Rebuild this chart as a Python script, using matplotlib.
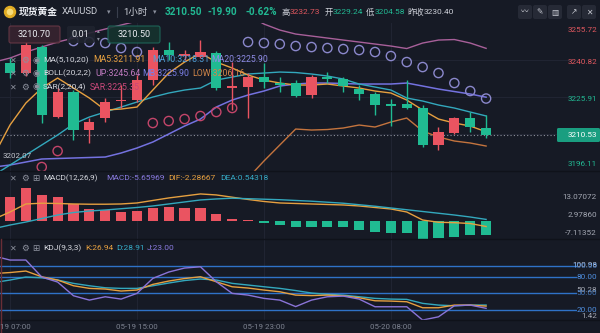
import numpy as np
import matplotlib
matplotlib.use("Agg")
import matplotlib.pyplot as plt
from matplotlib.patches import FancyBboxPatch, Circle

plt.rcParams['font.family'] = ['Roboto', 'Noto Sans CJK SC', 'DejaVu Sans']

# ---------------- data ----------------
time_labels = ['05-19 07:00', '05-19 15:00', '05-19 23:00', '05-20 08:00']
time_label_idx = [0, 8, 16, 24]

opens = [3239.70, 3235.66, 3246.16, 3217.88, 3227.98, 3212.63, 3217.48, 3224.35, 3224.75, 3232.83,
         3244.95, 3242.53, 3242.13, 3243.74, 3229.80, 3230.00, 3234.04, 3231.22, 3231.62, 3226.77,
         3234.04, 3233.24, 3229.24, 3227.18, 3222.73, 3223.13, 3221.52, 3206.57, 3211.42, 3217.48,
         3213.44]
highs = [3241.72, 3248.19, 3246.97, 3229.60, 3228.79, 3217.48, 3225.56, 3230.81, 3234.85, 3246.16,
         3248.19, 3244.95, 3248.99, 3244.55, 3240.10, 3235.66, 3239.70, 3234.04, 3232.83, 3234.85,
         3236.06, 3234.04, 3230.81, 3227.98, 3225.15, 3232.73, 3222.73, 3213.84, 3217.88, 3219.90,
         3218.69]
lows = [3233.64, 3234.45, 3215.46, 3217.48, 3208.59, 3207.38, 3215.86, 3221.52, 3223.94, 3230.81,
        3240.91, 3240.91, 3241.72, 3228.79, 3220.71, 3217.48, 3229.60, 3227.98, 3225.96, 3225.56,
        3231.62, 3227.98, 3224.75, 3218.69, 3214.24, 3221.30, 3205.76, 3204.58, 3211.01, 3211.82,
        3209.40]
closes = [3235.66, 3246.97, 3218.69, 3227.98, 3212.63, 3215.86, 3223.94, 3224.75, 3232.83, 3244.95,
          3242.93, 3243.34, 3244.15, 3229.60, 3230.21, 3234.04, 3232.02, 3231.01, 3226.37, 3234.04,
          3233.24, 3230.40, 3227.18, 3222.73, 3222.53, 3221.52, 3206.57, 3211.82, 3217.48, 3213.84,
          3210.53]

# indicator lines start one bar before the first full candle (index -1)
ma5 = [3202.53, 3214.65, 3223.54, 3229.60, 3233.64, 3229.60, 3225.56, 3220.71, 3221.11, 3221.92,
       3228.79, 3235.66, 3240.10, 3243.74, 3240.10, 3237.68, 3234.85, 3232.83, 3231.62, 3230.81,
       3230.81, 3231.22, 3230.41, 3229.60, 3228.39, 3227.58, 3224.75, 3220.71, 3217.07, 3215.46,
       3214.24, 3211.91]
ma10 = [3194.45, 3198.49, 3202.53, 3206.57, 3210.61, 3215.05, 3217.88, 3219.90, 3221.92, 3223.94,
        3225.96, 3227.58, 3228.79, 3229.60, 3232.83, 3234.04, 3235.26, 3235.66, 3236.06, 3235.86,
        3235.26, 3234.45, 3233.24, 3231.22, 3230.00, 3228.79, 3225.56, 3224.35, 3222.73, 3221.52,
        3219.90, 3218.31]
ma20 = [3197.68, 3198.49, 3199.70, 3200.91, 3201.12, 3201.32, 3201.52, 3201.72, 3203.34, 3205.36,
        3207.78, 3211.01, 3214.24, 3217.07, 3221.92, 3224.75, 3226.77, 3228.39, 3230.41, 3231.22,
        3231.62, 3231.62, 3231.42, 3231.22, 3231.22, 3231.22, 3231.62, 3230.41, 3229.19, 3228.18,
        3227.18, 3225.90]
boll_up = [3240.10, 3241.72, 3244.15, 3246.16, 3248.19, 3249.80, 3251.82, 3253.44, 3255.05, 3256.67,
           3258.29, 3259.90, 3261.11, 3261.92, 3261.92, 3261.11, 3259.10, 3255.46, 3253.03, 3251.42,
           3250.61, 3249.80, 3248.99, 3248.19, 3247.38, 3246.57, 3245.56, 3247.78, 3248.99, 3249.20,
           3247.78, 3245.64]
boll_low = [np.nan] * 15 + [3186.37, 3193.24, 3200.10, 3206.57, 3213.03, 3212.63, 3212.83, 3213.44,
                            3214.65, 3213.84, 3215.86, 3217.48, 3212.22, 3209.80, 3208.19, 3207.38,
                            3206.16]
sar = [3190.41, 3193.24, 3197.68, 3204.14, 3248.59, 3248.19, 3247.78, 3245.76, 3244.15, 3215.46,
       3216.27, 3217.07, 3218.29, 3219.90, 3221.52, 3248.19, 3247.78, 3247.38, 3246.57, 3246.16,
       3245.76, 3245.36, 3244.95, 3244.15, 3242.53, 3240.10, 3238.08, 3235.66, 3231.62, 3228.39,
       3225.35]

macd_hist = [9.49, 13.07072, 10.29, 9.49, 6.70, 4.71, 4.31, 3.51, 3.91, 5.11,
             5.50, 5.11, 5.11, 2.71, 0.72, 0.32, -0.88, -1.68, -2.47, -2.47,
             -2.35, -2.59, -3.67, -4.35, -4.99, -4.99, -7.11352, -6.86, -6.34, -5.66,
             -5.65969]
dif = [0.7, 3.5, 6.7, 7.0, 6.9, 6.7, 6.6, 6.6, 6.7, 7.1,
       8.1, 9.1, 9.9, 10.7, 10.3, 9.4, 8.5, 7.7, 7.1, 6.9,
       6.7, 6.5, 6.3, 5.9, 5.3, 4.7, 3.5, 0.3, -0.6, -0.76,
       -1.1, -2.28667]
dea = [-3.1, -1.7, -0.5, 0.9, 2.3, 3.3, 3.9, 4.3, 4.8, 5.3,
       5.9, 6.7, 7.5, 8.3, 8.7, 9.0, 8.8, 8.6, 8.4, 8.1,
       7.8, 7.4, 7.0, 6.4, 5.8, 5.1, 4.4, 3.7, 3.0, 2.3,
       1.5, 0.54318]

kdj_k = [85.6, 87.4, 90.1, 79.8, 73.9, 63.6, 58.9, 57.7, 54.1, 55.9,
         66.1, 72.1, 76.6, 79.8, 70.8, 61.8, 59.5, 55.9, 52.8, 46.8,
         45.9, 46.8, 45.6, 42.0, 36.6, 36.0, 34.8, 24.0, 24.0, 28.8,
         28.8, 26.94]
kdj_d = [69.4, 73.9, 79.3, 78.0, 73.9, 67.9, 63.6, 60.0, 58.9, 58.9,
         63.6, 68.5, 73.0, 75.7, 73.9, 67.9, 64.9, 61.8, 58.9, 55.0,
         50.5, 48.1, 46.8, 43.8, 40.9, 39.6, 39.1, 31.9, 28.8, 27.6,
         28.8, 28.91]
kdj_j = [117.1, 109.9, 109.9, 79.3, 70.3, 45.6, 37.8, 43.8, 39.6, 49.9,
         76.9, 88.3, 95.5, 97.8, 70.8, 49.9, 46.8, 40.9, 37.8, 26.1,
         37.8, 43.8, 45.0, 39.6, 25.8, 25.8, 25.8, 1.8, 7.7, 27.6,
         28.8, 23.00]
kdj_levels = [100, 80, 50, 20]

price_ticks = [3255.72, 3240.82, 3225.91, 3196.11]
prev_close = 3230.40
last_price = 3210.53

# ---------------- style ----------------
W, H = 600, 333
BG = '#161a25'
GRID = '#212533'
RED = '#ea5461'
GREEN = '#20bb92'
TXT = '#d6d8df'
MUTED = '#8b909d'
C_MA5 = '#e6a040'
C_MA10 = '#33a8bd'
C_MA20 = '#7472e0'
C_UP = '#a8609a'
C_LOW = '#c4743e'
C_SAR_DN = '#c4456a'
C_SAR_UP = '#8b88cc'
C_J = '#8a74d8'
C_LVL = '#2f72c8'

STEP = 15.87          # pixels per bar
X0 = 10.0             # pixel of first candle
PLOT_R = 577.0        # right edge of plotting area

fig = plt.figure(figsize=(W / 100, H / 100), dpi=100, facecolor=BG)


def px_rect(x0, y0, x1, y1):
    return [x0 / W, 1 - y1 / H, (x1 - x0) / W, (y1 - y0) / H]


def panel(y0, y1, top_px, top_val, bot_px, bot_val):
    ax = fig.add_axes(px_rect(0, y0, PLOT_R, y1))
    scale = (bot_px - top_px) / (top_val - bot_val)
    ax.set_ylim(bot_val - (y1 - bot_px) / scale, top_val + (top_px - y0) / scale)
    ax.set_xlim(-X0 / STEP, (PLOT_R - X0) / STEP)
    ax.set_axis_off()
    for i in time_label_idx:
        ax.axvline(i, color=GRID, lw=0.7, zorder=0)
    return ax


xc = np.arange(len(closes))
xl = np.arange(-1, len(closes))

# ---------------- main price panel ----------------
ax = panel(23.4, 170.9, 23.4, 3255.72, 170.9, 3196.11)
for v in [3240.82, 3225.91, 3211.01]:
    ax.axhline(v, color=GRID, lw=0.7, zorder=0)

o = np.array(opens); c = np.array(closes); hi = np.array(highs); lo = np.array(lows)
up = c >= o
cols = np.where(up, RED, GREEN)
ax.vlines(xc, lo, hi, colors=cols, lw=1.0, zorder=3)
body_lo = np.minimum(o, c)
body_h = np.maximum(np.abs(c - o), 0.45)
ax.bar(xc, body_h, bottom=body_lo, width=0.64, color=cols, linewidth=0, zorder=4)

ax.plot(xl, boll_up, color=C_UP, lw=1.0, zorder=2)
ax.plot(xl, boll_low, color=C_LOW, lw=1.0, zorder=2)
ax.plot(xl, ma20, color=C_MA20, lw=1.1, zorder=2)
ax.plot(xl, ma10, color=C_MA10, lw=1.0, zorder=2)
ax.plot(xl, ma5, color=C_MA5, lw=1.0, zorder=2)

s = np.array(sar)
below = s < c
ax.scatter(xc[below], s[below], s=44, facecolors='none', edgecolors=C_SAR_DN, linewidths=1.0, zorder=5)
ax.scatter(xc[~below], s[~below], s=44, facecolors='none', edgecolors=C_SAR_UP, linewidths=1.0, zorder=5)

ax.axhline(last_price, color='#8d919c', lw=0.8, ls=(0, (1, 2)), zorder=1)

# ---------------- MACD panel ----------------
axm = panel(171, 238.6, 188, 13.07072, 238.6, -7.11352)
h = np.array(macd_hist)
axm.bar(xc, h, width=0.64, color=np.where(h >= 0, RED, GREEN), linewidth=0, zorder=3)
axm.plot(xl, dif, color=C_MA5, lw=1.0, zorder=4)
axm.plot(xl, dea, color=C_MA10, lw=1.0, zorder=4)

# ---------------- KDJ panel ----------------
axk = panel(238.6, 320.3, 265.0, 100.98, 320.3, 1.42)
for lv in kdj_levels:
    axk.axhline(lv, color=C_LVL, lw=1.0, zorder=1)
axk.plot(xl, kdj_d, color=C_MA10, lw=1.0, zorder=3)
axk.plot(xl, kdj_k, color=C_MA5, lw=1.0, zorder=3)
axk.plot(xl, kdj_j, color=C_J, lw=1.0, zorder=3)

# ---------------- overlay for texts ----------------
ov = fig.add_axes([0, 0, 1, 1], zorder=10)
ov.set_xlim(0, W)
ov.set_ylim(H, 0)
ov.set_axis_off()


def t(x, y, s, color=TXT, size=6.0, ha='left', weight='normal', **kw):
    ov.text(x, y, s, color=color, fontsize=size, ha=ha, va='center', fontweight=weight, **kw)


# panel separators
for yy in [171, 238.6, 320.3]:
    ov.plot([0, W], [yy, yy], color='#0f121a', lw=1.0)
ov.plot([0.5, 0.5], [239, H], color='#6a2e36', lw=1.0)

# header
ov.add_patch(Circle((10, 12), 5.5, color='#e2ad24'))
ov.add_patch(Circle((10, 12), 2.6, color='#f6dc7a'))
t(18.5, 12, '现货黄金', '#eceef3', 7.0, weight='bold')
t(62, 12, 'XAUUSD', '#cdd0d8', 6.8)
t(107, 12.5, '▾', MUTED, 5.0, family='DejaVu Sans')
ov.plot([117, 117], [7, 17], color='#3a3f4d', lw=0.8)
t(123, 12, '1小时', '#cdd0d8', 6.8)
t(153, 12.5, '▾', MUTED, 5.0, family='DejaVu Sans')
GREEN_T = '#22b993'
RED_T = '#e0585f'
t(165, 12, '3210.50', GREEN_T, 7.2, weight='bold')
t(208, 12, '-19.90', GREEN_T, 7.2, weight='bold')
t(245, 12, '-0.62%', GREEN_T, 7.2, weight='bold')
t(282, 12, '高', '#cdd0d8', 6.0)
t(290, 12, '3232.73', RED_T, 6.0)
t(325, 12, '开', '#cdd0d8', 6.0)
t(333, 12, '3229.24', GREEN_T, 6.0)
t(366, 12, '低', '#cdd0d8', 6.0)
t(374.5, 12, '3204.58', GREEN_T, 6.0)
t(407, 12, '昨收', '#cdd0d8', 6.0)
t(424, 12, '3230.40', '#cdd0d8', 6.0)
for bx, glyph in zip([518, 533, 548, 567, 582], ['〰', '✎', '▥', '↗', '✕']):
    ov.add_patch(FancyBboxPatch((bx, 5), 14, 14, boxstyle='round,pad=0,rounding_size=2',
                                fc='#262a36', ec='none'))
    t(bx + 7, 12, glyph, '#c9ccd4', 5.5, ha='center', family=['DejaVu Sans', 'Noto Sans CJK SC'])

# order widget
ov.add_patch(FancyBboxPatch((9, 26), 51, 17, boxstyle='round,pad=0,rounding_size=2',
                            fc='#3a2430', ec='#6e3a48', lw=0.8, alpha=0.85))
t(34.5, 34.5, '3210.70', '#eceef3', 6.6, ha='center')
ov.add_patch(FancyBboxPatch((67, 26), 28, 17, boxstyle='round,pad=0,rounding_size=2',
                            fc='#20242f', ec='none', alpha=0.9))
t(71, 34.5, '0.01', '#dfe1e6', 6.6)
t(98, 30.5, '▴', MUTED, 4.0, ha='center', family='DejaVu Sans')
t(98, 38.5, '▾', MUTED, 4.0, ha='center', family='DejaVu Sans')
ov.add_patch(FancyBboxPatch((108, 26), 52, 17, boxstyle='round,pad=0,rounding_size=2',
                            fc='#15342f', ec='#1f6d5e', lw=0.8, alpha=0.85))
t(134, 34.5, '3210.50', '#eceef3', 6.6, ha='center')

# indicator legends
ICON = '#8d919e'


def icons(y, third):
    t(13, y, '✕', ICON, 5.8, ha='center', family='DejaVu Sans')
    t(25, y, '⚙', ICON, 6.3, ha='center', family='DejaVu Sans')
    t(36, y, third, ICON, 6.3, ha='center', family='DejaVu Sans')


LS = 6.3
icons(60, '◉')
t(43, 60, 'MA(5,10,20)', TXT, 6.0)
t(93, 60, 'MA5:3211.91', C_MA5, LS)
t(152, 60, 'MA10:3218.31', '#4f9fd8', LS)
t(211, 60, 'MA20:3225.90', '#8f8ce6', LS)
icons(73.5, '◉')
t(43, 73.5, 'BOLL(20,2,2)', TXT, 6.0)
t(95, 73.5, 'UP:3245.64', '#c07ac0', LS)
t(142, 73.5, 'MB:3225.90', '#7b7fe6', LS)
t(192, 73.5, 'LOW:3206.16', '#d2874a', LS)
icons(87, '◉')
t(43, 87, 'SAR(2,20,4)', TXT, 6.0)
t(90, 87, 'SAR:3225.35', '#c9487a', LS)

icons(178.5, '⊞')
t(43, 178.5, 'MACD(12,26,9)', TXT, 5.9)
t(106, 178.5, 'MACD:-5.65969', '#8a7be0', 6.0)
t(168, 178.5, 'DIF:-2.28667', C_MA5, 6.0)
t(220, 178.5, 'DEA:0.54318', '#35aac6', 6.0)

icons(248.5, '⊞')
t(43, 248.5, 'KDJ(9,3,3)', TXT, 6.0)
t(85, 248.5, 'K:26.94', C_MA5, 6.0)
t(116, 248.5, 'D:28.91', '#35aac6', 6.0)
t(147, 248.5, 'J:23.00', '#8a7be0', 6.0)

# price axis labels
AX = 5.9
for v, yy in zip(price_ticks, [30, 62.5, 99, 164]):
    t(597, yy, f'{v:.2f}', RED_T if v > prev_close else GREEN_T, AX, ha='right')
t(3, 156, '3202.07', '#c3c6ce', 5.7)
ov.add_patch(FancyBboxPatch((557, 128), 43, 14, boxstyle='round,pad=0,rounding_size=1.5',
                            fc='#1a9e80', ec='none'))
t(597, 135, f'{last_price:.2f}', '#ffffff', AX, ha='right')

for s_, yy in zip(['13.07072', '2.97860', '-7.11352'], [197, 215, 233]):
    t(597, yy, s_, '#a3a7b2', AX, ha='right')

t(597, 265, '100.98', '#b9c7e0', AX, ha='right')
t(597, 265.6, '100.00', '#4f8fe0', AX, ha='right', alpha=0.8)
t(597, 276.7, '80.00', '#4f8fe0', AX, ha='right')
t(597, 290, '50.28', '#a3a7b2', AX, ha='right')
t(597, 293.3, '50.00', '#4f8fe0', AX, ha='right', alpha=0.8)
t(597, 310, '20.00', '#4f8fe0', AX, ha='right')
t(597, 315.7, '1.42', '#a3a7b2', AX, ha='right')

# time axis
for lab, i in zip(time_labels, time_label_idx):
    t(X0 + STEP * i, 327, lab, '#7e8391', 5.7, ha='center')

fig.savefig('out.png', dpi=100, facecolor=BG)
